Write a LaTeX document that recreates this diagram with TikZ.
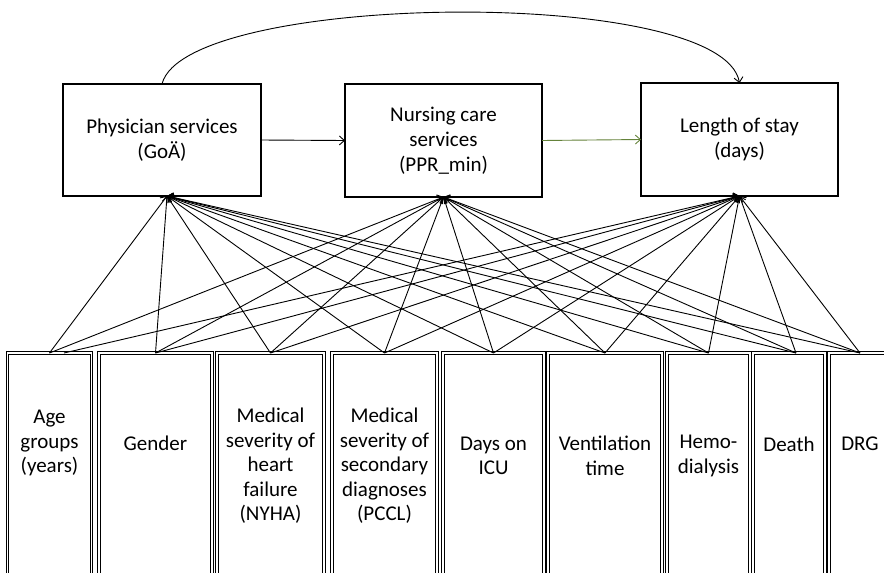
\documentclass[tikz,border=0pt]{standalone}
\usepackage{fontspec}
\setmainfont{Carlito}
\usetikzlibrary{arrows.meta}
\definecolor{linkgreen}{RGB}{100,130,58}
\begin{document}
\begin{tikzpicture}[x=1pt,y=-1pt,
  topbox/.style={draw, line width=1.8pt, inner sep=0pt, outer sep=0pt, align=center,
    font=\fontsize{21}{25}\selectfont},
  varbox/.style={draw, line width=1.3pt, double=white, double distance=1.3pt,
    inner sep=0pt, outer sep=0pt, minimum height=260pt, anchor=north},
  vartext/.style={align=center, inner sep=0pt, font=\fontsize{21}{24.5}\selectfont},
  link/.style={line width=0.9pt, -{Straight Barb[length=5pt,width=9pt]}},
]
\path[use as bounding box] (0,0) rectangle (884,573);
\clip (0,0) rectangle (884,573);
\fill[white] (0,0) rectangle (884,573);

% outcome boxes
\node[topbox, minimum width=198pt, minimum height=112pt] (phys) at (162,140)
  {Physician services\\(GoÄ)};
\node[topbox, minimum width=197pt, minimum height=113pt] (nurs) at (443.5,140.5)
  {Nursing care\\services\\(PPR\_min)};
\node[topbox, minimum width=197pt, minimum height=113pt] (los) at (739.5,139.5)
  {Length of stay\\(days)};

% predictor boxes (run off the lower edge)
\node[varbox, minimum width=84pt]  (age)    at (49.5,353)  {};
\node[varbox, minimum width=113pt] (gender) at (155.5,353) {};
\node[varbox, minimum width=107pt] (heart)  at (270.5,353) {};
\node[varbox, minimum width=105pt] (second) at (384.5,353) {};
\node[varbox, minimum width=101pt] (icu)    at (493.5,353) {};
\node[varbox, minimum width=114pt] (vent)   at (605,353)   {};
\node[varbox, minimum width=83pt]  (hemo)   at (708.5,353) {};
\node[varbox, minimum width=72pt]  (death)  at (789,353)   {};
\node[varbox, minimum width=62pt]  (drg)    at (860,353)   {};

% predictor labels
\node[vartext] (agetxt)    at (49.5,443)  {Age\\groups\\(years)};
\node[vartext] (gendertxt) at (155.5,443) {Gender};
\node[vartext] (hearttxt)  at (270.5,466) {Medical\\severity of\\heart\\failure\\(NYHA)};
\node[vartext] (secondtxt) at (384.5,466) {Medical\\severity of\\secondary\\diagnoses\\(PCCL)};
\node[vartext] (icutxt)    at (493.5,456) {Days on\\ICU};
\node[vartext] (venttxt)   at (605,456)   {Ventilation\\time};
\node[vartext] (hemotxt)   at (708.5,456) {Hemo-\\dialysis};
\node[vartext] (deathtxt)  at (789,444)   {Death};
\node[vartext] (drgtxt)    at (860,444)   {DRG};

% connector end points
\coordinate (physIn) at ([xshift=5pt]phys.south);
\coordinate (nursIn) at (nurs.south);
\coordinate (losIn)  at (los.south);
\coordinate (ageOut)   at (age.north);
\coordinate (ageOutB)  at ([xshift=14.5pt]age.north);
\coordinate (deathOut) at ([xshift=7pt]death.north);

% paths between outcomes
\draw[link] (phys.east) -- (nurs.west);
\draw[link, linkgreen] (nurs.east) -- (los.west);
\draw[link] (phys.north) .. controls (185,-8) and (722,-15) .. (los.north);

% predictor effects
\draw[link] (ageOut) -- (physIn);
\draw[link] (ageOut) -- (nursIn);
\draw[link] (ageOutB) -- (losIn);
\foreach \s in {gender,heart,second,icu,vent,hemo,drg} {
  \draw[link] (\s.north) -- (physIn);
  \draw[link] (\s.north) -- (nursIn);
  \draw[link] (\s.north) -- (losIn);
}
\draw[link] (deathOut) -- (physIn);
\draw[link] (deathOut) -- (nursIn);
\draw[link] (deathOut) -- (losIn);
\end{tikzpicture}
\end{document}
